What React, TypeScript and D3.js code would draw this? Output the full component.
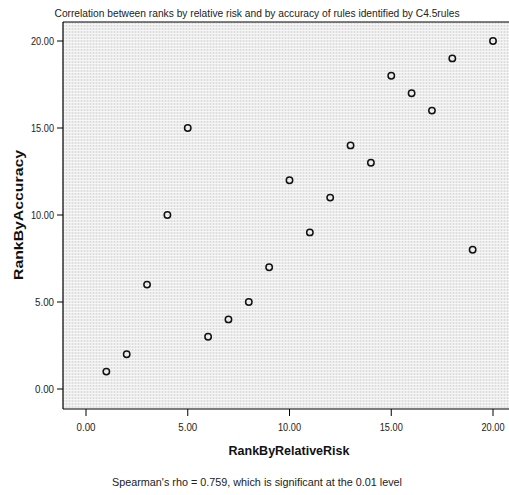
import React from "react";
import * as d3 from "d3";

const rankByRelativeRisk = [1, 2, 3, 4, 5, 6, 7, 8, 9, 10, 11, 12, 13, 14, 15, 16, 17, 18, 19, 20];
const rankByAccuracy = [1, 2, 6, 10, 15, 3, 4, 5, 7, 12, 9, 11, 14, 13, 18, 17, 16, 19, 8, 20];
const tickValues = [0, 5, 10, 15, 20];
const titleText = "Correlation between ranks by relative risk and  by accuracy of rules identified by C4.5rules";
const xTitle = "RankByRelativeRisk";
const yTitle = "RankByAccuracy";
const footnote = "Spearman's rho = 0.759, which is significant at the 0.01 level";

const W = 509, H = 495;
const plotLeft = 63, plotTop = 22, plotBottom = 409, plotRight = 520;

export default function App() {
  const x = d3.scaleLinear().domain([0, 20]).range([86, 493]);
  const y = d3.scaleLinear().domain([0, 20]).range([389, 41]);
  const font = "'Liberation Sans', Arial, sans-serif";
  return (
    <svg width={W} height={H} style={{ position: "absolute", left: 0, top: 0, background: "#fff" }}>
      <defs>
        <pattern id="grid" width="3" height="3" patternUnits="userSpaceOnUse">
          <rect width="3" height="3" fill="#ececec" />
          <rect width="1" height="3" fill="#dcdcdc" />
          <rect width="3" height="1" fill="#f6f6f6" />
        </pattern>
      </defs>
      <text x={257} y={17} fontFamily={font} fontSize={11.5} textAnchor="middle" fill="#222" textLength={405} lengthAdjust="spacingAndGlyphs">{titleText}</text>
      <rect x={plotLeft} y={plotTop} width={plotRight - plotLeft} height={plotBottom - plotTop} fill="url(#grid)" />
      <line x1={plotLeft} x2={plotRight} y1={plotTop} y2={plotTop} stroke="#000" strokeWidth={1} />
      <line x1={plotLeft} x2={plotRight} y1={plotBottom} y2={plotBottom} stroke="#000" strokeWidth={1.2} />
      <line x1={plotLeft} x2={plotLeft} y1={plotTop} y2={plotBottom} stroke="#000" strokeWidth={1.2} />
      {tickValues.map((t) => (
        <g key={"x" + t}>
          <line x1={x(t)} x2={x(t)} y1={plotBottom} y2={plotBottom + 7} stroke="#000" />
          <text x={x(t)} y={431} fontFamily={font} fontSize={10} textAnchor="middle" fill="#222" textLength={t >= 10 ? 23 : 19} lengthAdjust="spacingAndGlyphs">{t.toFixed(2)}</text>
        </g>
      ))}
      {tickValues.map((t) => (
        <g key={"y" + t}>
          <line x1={plotLeft - 6} x2={plotLeft} y1={y(t)} y2={y(t)} stroke="#000" />
          <text x={54} y={y(t) + 3.5} fontFamily={font} fontSize={10} textAnchor="end" fill="#222" textLength={t >= 10 ? 23 : 19} lengthAdjust="spacingAndGlyphs">{t.toFixed(2)}</text>
        </g>
      ))}
      <text x={289} y={455} fontFamily={font} fontSize={13} fontWeight="bold" textAnchor="middle" fill="#111" textLength={121} lengthAdjust="spacingAndGlyphs">{xTitle}</text>
      <text transform={`translate(23,215) rotate(-90)`} fontFamily={font} fontSize={13} fontWeight="bold" textAnchor="middle" fill="#111" textLength={130} lengthAdjust="spacingAndGlyphs">{yTitle}</text>
      <text x={257} y={486} fontFamily={font} fontSize={11.5} textAnchor="middle" fill="#222" textLength={290} lengthAdjust="spacingAndGlyphs">{footnote}</text>
      {rankByRelativeRisk.map((v, i) => (
        <circle key={i} cx={x(v)} cy={y(rankByAccuracy[i])} r={3.2} fill="none" stroke="#111" strokeWidth={1.5} />
      ))}
    </svg>
  );
}
